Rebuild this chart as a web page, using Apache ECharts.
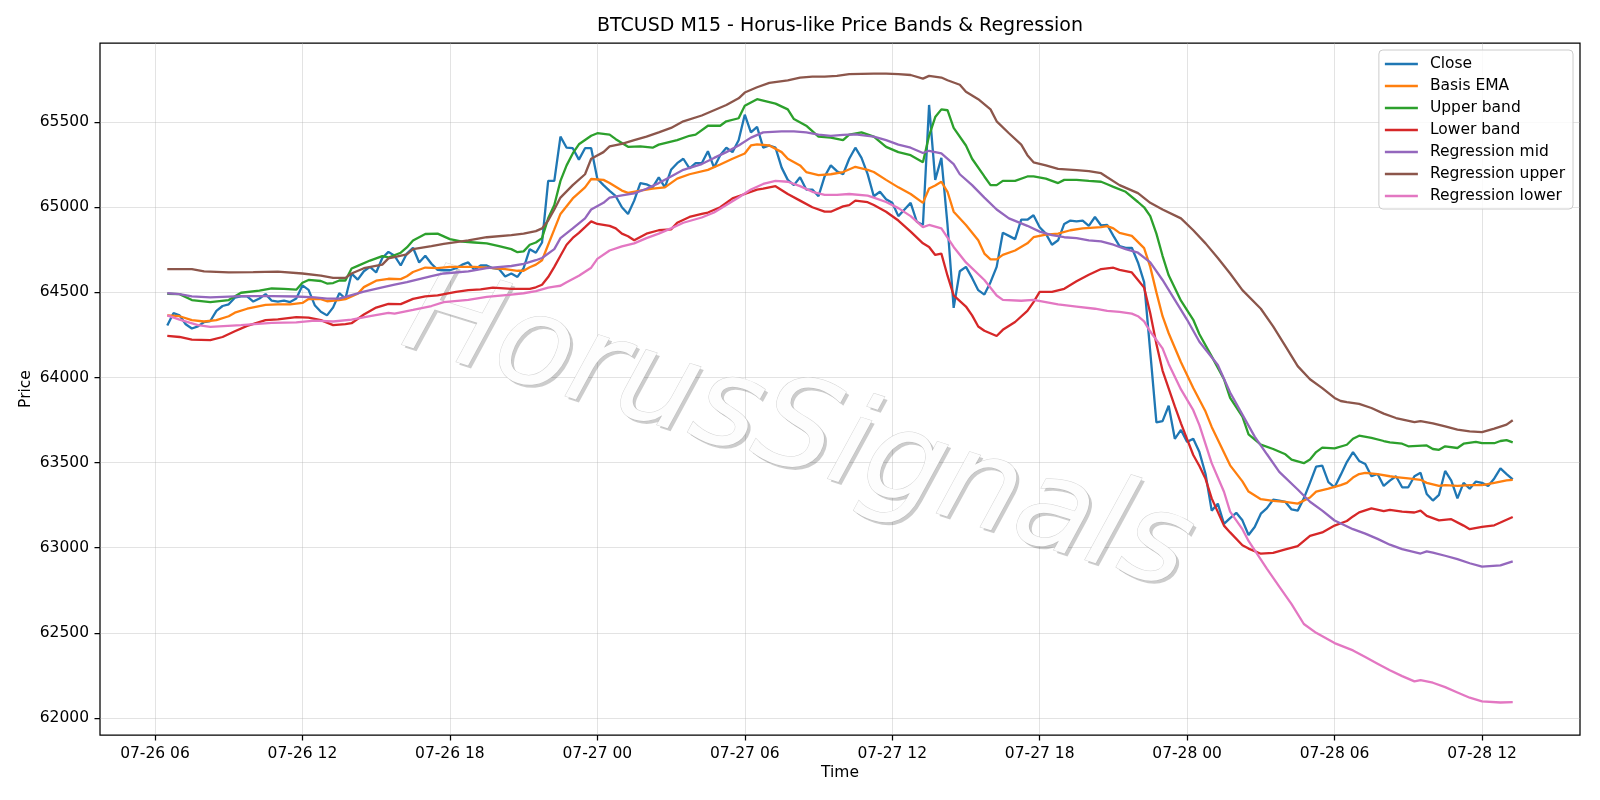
<!DOCTYPE html>
<html>
<head>
<meta charset="utf-8">
<title>BTCUSD M15 - Horus-like Price Bands & Regression</title>
<script src="https://cdn.jsdelivr.net/npm/echarts@6/dist/echarts.min.js"></script>
<style>
  html, body { margin: 0; padding: 0; background: #fff; }
  #chart { width: 1600px; height: 800px; }
</style>
</head>
<body>
<div id="chart"></div>
<script>
// M15 bars start 07-26 06:30, one every 15 minutes
var startTime = Date.UTC(2024, 6, 26, 6, 30);
var barMs = 15 * 60 * 1000;

var xTickLabels = ['07-26 06', '07-26 12', '07-26 18', '07-27 00', '07-27 06',
                   '07-27 12', '07-27 18', '07-28 00', '07-28 06', '07-28 12'];
var yTicks = [62000, 62500, 63000, 63500, 64000, 64500, 65000, 65500];

// Close, one value per bar
var closeValues = [
    64306, 64378, 64365, 64313, 64288, 64300, 64326, 64332, 64391, 64420,
    64430, 64469, 64477, 64477, 64446, 64464, 64490, 64451, 64446, 64451,
    64443, 64464, 64541, 64515, 64425, 64386, 64365, 64412, 64495, 64464,
    64610, 64575, 64624, 64650, 64617, 64702, 64738, 64715, 64658, 64728,
    64762, 64676, 64715, 64668, 64632, 64630, 64630, 64642, 64663, 64676,
    64632, 64658, 64658, 64642, 64637, 64593, 64611, 64591, 64642, 64754,
    64733, 64793, 65155, 65155, 65415, 65350, 65347, 65280, 65347, 65347,
    65168, 65130, 65096, 65065, 65000, 64961, 65039, 65142, 65135, 65117,
    65176, 65117, 65220, 65259, 65285, 65228, 65259, 65259, 65329, 65233,
    65306, 65350, 65324, 65394, 65544, 65440, 65472, 65350, 65363, 65350,
    65233, 65161, 65130, 65176, 65104, 65104, 65065, 65181, 65246, 65212,
    65194, 65285, 65350, 65290, 65195, 65065, 65091, 65047, 65026, 64948,
    64987, 65026, 64915, 64896, 65601, 65161, 65290, 64896, 64409, 64624,
    64650, 64585, 64513, 64487, 64560, 64650, 64850, 64832, 64813, 64927,
    64927, 64953, 64883, 64845, 64780, 64806, 64902, 64922, 64917, 64922,
    64891, 64943, 64893, 64896, 64832, 64772, 64762, 64762, 64676, 64560,
    64150, 63736, 63744, 63834, 63640, 63692, 63622, 63640, 63562, 63433,
    63218, 63259, 63140, 63174, 63205, 63161, 63075, 63122, 63200, 63233,
    63282, 63277, 63269, 63225, 63218, 63290, 63381, 63477, 63482, 63386,
    63355, 63428, 63503, 63562, 63510, 63492, 63420, 63433, 63363, 63394,
    63420, 63355, 63355, 63420, 63440, 63316, 63277, 63311, 63451, 63394,
    63290, 63381, 63347, 63389, 63381, 63363, 63407, 63466, 63433, 63402
];

// Smooth lines, read as [bar index, price]
var basisEma = [
    [0,64365],[2,64360],[4,64337],[6,64329],[8,64337],[10,64360],[11,64381],[13,64404],[14,64412],
    [16,64427],[18,64430],[20,64430],[22,64438],[23,64461],[25,64460],[26,64448],[28,64455],[29,64460],
    [31,64492],[32,64531],[34,64569],[36,64580],[38,64578],[39,64595],[40,64620],[42,64646],[44,64643],
    [46,64650],[48,64650],[50,64650],[52,64645],[55,64637],[57,64627],[58,64627],[59,64648],[60,64663],
    [61,64689],[62,64780],[63,64870],[64,64961],[66,65052],[68,65117],[69,65166],[71,65161],[72,65142],
    [74,65098],[75,65085],[77,65098],[79,65109],[81,65117],[83,65168],[85,65194],[88,65220],[90,65251],
    [92,65285],[94,65316],[95,65363],[96,65370],[98,65363],[100,65324],[101,65285],[103,65246],[104,65207],
    [106,65189],[108,65194],[110,65207],[112,65238],[114,65220],[115,65207],[117,65161],[119,65117],
    [121,65078],[123,65026],[124,65110],[125,65128],[126,65150],[127,65091],[128,64974],[130,64896],
    [132,64806],[133,64728],[134,64694],[135,64694],[136,64720],[138,64746],[140,64788],[141,64824],
    [143,64839],[145,64845],[147,64865],[149,64876],[152,64883],[153,64889],[154,64876],[155,64850],
    [157,64832],[159,64760],[160,64650],[161,64500],[162,64360],[163,64260],[165,64090],[167,63938],
    [169,63800],[170,63710],[172,63560],[173,63484],[175,63390],[176,63330],[178,63285],[180,63275],
    [182,63269],[184,63259],[186,63295],[187,63330],[189,63347],[191,63368],[192,63381],[193,63412],
    [194,63433],[195,63440],[197,63433],[199,63420],[200,63415],[202,63407],[204,63399],[205,63381],
    [207,63363],[208,63368],[210,63363],[212,63368],[214,63368],[216,63381],[218,63396],[219,63399]
];

var upperBand = [
    [0,64492],[2,64490],[4,64455],[7,64443],[10,64455],[12,64498],[15,64510],[17,64523],[19,64521],
    [21,64516],[22,64557],[23,64573],[25,64567],[26,64552],[27,64555],[28,64570],[29,64570],[30,64640],
    [31,64656],[33,64687],[35,64713],[36,64705],[38,64733],[39,64764],[40,64805],[42,64843],[44,64845],
    [46,64813],[48,64798],[50,64793],[52,64788],[54,64772],[56,64754],[57,64736],[58,64741],[59,64780],
    [60,64793],[61,64819],[62,64935],[63,65013],[64,65155],[65,65246],[66,65316],[67,65370],[69,65420],
    [70,65435],[72,65427],[73,65400],[75,65355],[77,65358],[79,65350],[80,65368],[83,65394],[85,65420],
    [86,65427],[88,65479],[90,65479],[91,65505],[93,65523],[94,65596],[96,65635],[97,65627],[99,65609],
    [101,65575],[102,65518],[104,65479],[106,65415],[108,65409],[110,65394],[111,65427],[113,65440],
    [115,65415],[117,65355],[119,65324],[121,65306],[123,65264],[124,65420],[125,65530],[126,65575],
    [127,65570],[128,65466],[130,65363],[131,65285],[133,65181],[134,65130],[135,65130],[136,65155],
    [138,65155],[140,65181],[141,65181],[143,65168],[145,65142],[146,65161],[148,65161],[150,65155],
    [152,65150],[153,65135],[154,65120],[156,65091],[158,65031],[159,65000],[160,64948],[161,64845],
    [162,64715],[163,64600],[165,64451],[167,64339],[168,64254],[170,64124],[172,63990],[173,63881],
    [175,63770],[176,63666],[178,63606],[180,63580],[182,63549],[183,63518],[185,63497],[186,63518],
    [187,63562],[188,63588],[190,63584],[192,63605],[193,63640],[194,63658],[196,63645],[198,63627],
    [199,63619],[201,63611],[202,63596],[205,63601],[206,63580],[207,63575],[208,63596],[210,63586],
    [211,63611],[213,63622],[214,63614],[216,63614],[217,63627],[218,63632],[219,63619]
];

var lowerBand = [
    [0,64244],[2,64238],[4,64223],[7,64220],[9,64238],[11,64272],[13,64303],[16,64337],[18,64342],
    [21,64355],[23,64352],[25,64337],[27,64308],[29,64314],[30,64319],[32,64370],[34,64411],[36,64433],
    [38,64431],[40,64462],[42,64477],[44,64482],[47,64503],[49,64513],[51,64518],[53,64528],[56,64521],
    [59,64521],[60,64530],[61,64545],[62,64590],[63,64650],[64,64715],[65,64780],[66,64820],[67,64850],
    [68,64883],[69,64917],[70,64902],[72,64891],[73,64876],[74,64845],[75,64830],[76,64806],[78,64845],
    [80,64865],[82,64870],[83,64909],[85,64943],[87,64961],[88,64969],[90,65000],[92,65052],[94,65078],
    [96,65104],[97,65109],[99,65124],[101,65078],[103,65039],[105,65000],[107,64974],[108,64974],
    [110,65005],[111,65013],[112,65039],[114,65030],[115,65013],[117,64974],[119,64922],[121,64857],
    [123,64788],[124,64767],[125,64720],[126,64728],[127,64598],[128,64482],[130,64417],[131,64365],
    [132,64300],[133,64275],[135,64244],[136,64280],[138,64326],[140,64391],[141,64443],[142,64503],
    [144,64503],[146,64521],[148,64565],[150,64604],[152,64637],[154,64645],[155,64632],[157,64617],
    [158,64573],[159,64528],[160,64378],[161,64197],[162,64041],[164,63830],[165,63731],[167,63545],
    [168,63480],[169,63405],[170,63290],[172,63130],[173,63090],[175,63015],[176,62995],[178,62965],
    [180,62970],[182,62990],[184,63010],[186,63070],[188,63090],[190,63130],[192,63157],[193,63184],
    [194,63208],[196,63231],[198,63215],[199,63223],[201,63212],[203,63207],[204,63218],[205,63187],
    [207,63161],[209,63168],[211,63130],[212,63109],[214,63122],[216,63132],[217,63148],[219,63181]
];

var regMid = [
    [0,64495],[2,64490],[4,64477],[7,64471],[12,64478],[17,64478],[21,64476],[24,64471],[26,64463],
    [28,64463],[30,64484],[32,64505],[35,64530],[37,64545],[39,64560],[41,64578],[43,64595],[45,64611],
    [49,64624],[52,64642],[56,64655],[58,64668],[60,64689],[61,64702],[63,64754],[64,64819],[66,64876],
    [68,64935],[69,64987],[71,65026],[72,65057],[74,65070],[76,65082],[78,65109],[80,65142],[82,65181],
    [84,65220],[87,65254],[89,65290],[91,65324],[93,65363],[95,65409],[97,65440],[100,65446],[102,65446],
    [104,65440],[106,65427],[108,65420],[110,65425],[112,65428],[115,65415],[117,65394],[119,65368],
    [121,65350],[123,65319],[124,65332],[126,65316],[128,65254],[129,65194],[131,65130],[133,65057],
    [135,64987],[137,64935],[140,64891],[142,64857],[144,64837],[146,64824],[148,64819],[150,64806],
    [152,64800],[154,64780],[156,64754],[158,64733],[160,64676],[162,64573],[164,64456],[166,64339],
    [168,64210],[171,64073],[173,63912],[175,63782],[177,63653],[179,63549],[181,63446],[184,63342],
    [186,63270],[188,63218],[190,63160],[193,63109],[195,63083],[197,63052],[199,63018],[201,62992],
    [204,62966],[205,62979],[206,62971],[208,62953],[210,62933],[212,62909],[214,62889],[217,62896],
    [219,62920]
];

var regUpper = [
    [0,64637],[4,64637],[6,64624],[10,64617],[14,64619],[18,64622],[22,64611],[25,64598],[27,64585],
    [29,64585],[30,64611],[32,64642],[35,64663],[36,64700],[39,64723],[40,64754],[43,64772],[45,64785],
    [49,64806],[52,64824],[56,64837],[58,64845],[60,64860],[61,64876],[62,64922],[63,64987],[64,65057],
    [66,65130],[68,65194],[69,65285],[71,65324],[72,65358],[74,65373],[76,65394],[78,65415],[80,65440],
    [82,65466],[84,65505],[87,65539],[89,65570],[91,65601],[93,65640],[94,65674],[96,65705],[98,65731],
    [101,65746],[103,65762],[105,65767],[107,65767],[109,65772],[111,65782],[115,65785],[117,65785],
    [119,65782],[121,65777],[123,65756],[124,65772],[126,65762],[127,65746],[129,65720],[130,65679],
    [132,65635],[134,65575],[135,65505],[137,65435],[139,65368],[140,65306],[141,65264],[143,65246],
    [145,65225],[148,65218],[150,65212],[152,65200],[153,65176],[155,65130],[158,65083],[160,65026],
    [162,64987],[165,64935],[167,64865],[169,64788],[171,64702],[173,64611],[175,64513],[178,64404],
    [180,64300],[182,64184],[184,64067],[186,63990],[188,63938],[190,63880],[191,63862],[192,63855],
    [194,63845],[196,63821],[198,63788],[200,63762],[203,63738],[204,63744],[206,63731],[208,63713],
    [210,63694],[212,63684],[214,63679],[216,63700],[218,63723],[219,63749]
];

var regLower = [
    [0,64365],[2,64340],[5,64308],[7,64298],[12,64308],[17,64321],[21,64324],[24,64334],[27,64329],
    [30,64340],[33,64360],[36,64380],[37,64375],[40,64397],[43,64420],[45,64443],[49,64456],[52,64474],
    [56,64487],[58,64495],[60,64508],[62,64528],[63,64534],[64,64539],[65,64560],[67,64598],[69,64645],
    [70,64697],[72,64746],[74,64770],[76,64788],[78,64819],[80,64845],[82,64876],[84,64909],[87,64940],
    [89,64969],[91,65013],[93,65057],[95,65104],[97,65137],[99,65155],[101,65150],[103,65124],[105,65091],
    [107,65073],[109,65073],[111,65078],[114,65068],[115,65057],[117,65031],[119,64995],[121,64948],
    [123,64883],[124,64896],[126,64876],[128,64767],[130,64676],[133,64573],[135,64482],[136,64456],
    [139,64451],[141,64456],[143,64443],[145,64430],[148,64417],[151,64404],[153,64391],[155,64385],
    [157,64375],[158,64360],[159,64330],[160,64270],[162,64171],[163,64080],[165,63930],[167,63808],
    [168,63720],[170,63497],[172,63329],[173,63212],[175,63109],[176,63040],[179,62876],[181,62772],
    [183,62669],[185,62552],[187,62500],[190,62440],[193,62397],[195,62358],[197,62319],[199,62280],
    [201,62246],[203,62215],[204,62223],[206,62207],[208,62181],[210,62150],[212,62119],[214,62098],
    [217,62091],[219,62093]
];

var seriesNames = ['Close', 'Basis EMA', 'Upper band', 'Lower band',
                   'Regression mid', 'Regression upper', 'Regression lower'];
var seriesColors = ['#1f77b4', '#ff7f0e', '#2ca02c', '#d62728', '#9467bd', '#8c564b', '#e377c2'];


var _horusBandsChart = function (divName) {
    if (typeof echarts == 'undefined') {
        console.warn('Warning - echarts.min.js is not loaded.');
        return;
    }

    var chart_element = document.getElementById(divName);
    if (!chart_element) {
        return;
    }

    var chart = echarts.init(chart_element, null, { renderer: 'canvas' });

    var font = 'DejaVu Sans, Verdana, sans-serif';

    var parseTick = function (label) {
        // 'MM-dd HH'
        var mm = parseInt(label.substr(0, 2), 10);
        var dd = parseInt(label.substr(3, 2), 10);
        var hh = parseInt(label.substr(6, 2), 10);
        return Date.UTC(2024, mm - 1, dd, hh);
    };
    var xTickValues = xTickLabels.map(parseTick);

    var toTime = function (pairs) {
        return pairs.map(function (p) {
            return [startTime + p[0] * barMs, p[1]];
        });
    };
    var closeData = closeValues.map(function (v, i) {
        return [startTime + i * barMs, v];
    });

    // matplotlib style 5% margins on the time range
    var lastTime = startTime + (closeValues.length - 1) * barMs;
    var pad = (lastTime - startTime) * 0.05;

    var lineSeries = function (idx, data) {
        return {
            name: seriesNames[idx],
            type: 'line',
            data: data,
            showSymbol: false,
            symbol: 'none',
            animation: false,
            color: seriesColors[idx],
            lineStyle: {
                width: 2.3,
                color: seriesColors[idx]
            },
            emphasis: { disabled: true },
            z: 3
        };
    };

    // Watermark: a grey offset copy as the shadow, then the light text over it
    var wmX = 797, wmY = 435;
    var wmRotation = -17.5 * Math.PI / 180;
    var wmFont = 'italic 125px "DejaVu Sans"';

    chart.setOption({
        animation: false,
        backgroundColor: '#fff',
        textStyle: {
            fontFamily: font
        },

        grid: {
            left: 100,
            right: 20,
            top: 43,
            bottom: 65,
            show: true,
            borderColor: '#000',
            borderWidth: 1.25,
            backgroundColor: 'transparent',
            containLabel: false
        },

        // Legend, upper right
        legend: {
            orient: 'vertical',
            right: 27,
            top: 50,
            data: seriesNames,
            icon: 'rect',
            itemWidth: 33,
            itemHeight: 2.4,
            itemGap: 6,
            selectedMode: false,
            padding: [6, 8, 5, 6],
            borderColor: '#cccccc',
            borderWidth: 1,
            borderRadius: 4,
            backgroundColor: 'rgba(255,255,255,0.8)',
            textStyle: {
                fontFamily: font,
                fontSize: 15.5,
                lineHeight: 16,
                color: '#000',
                padding: [0, 0, 0, 7]
            },
            z: 10
        },

        xAxis: {
            type: 'value',
            min: startTime - pad,
            max: lastTime + pad,
            name: 'Time',
            nameLocation: 'middle',
            nameGap: 30,
            nameMoveOverlap: false,
            nameTextStyle: {
                fontFamily: font,
                fontSize: 15.5,
                color: '#000'
            },
            axisLine: { show: false },
            axisTick: {
                show: true,
                length: 5.5,
                customValues: xTickValues,
                lineStyle: { color: '#000', width: 1.25 }
            },
            axisLabel: {
                margin: 11,
                customValues: xTickValues,
                fontFamily: font,
                fontSize: 15.5,
                color: '#000',
                formatter: function (value) {
                    var i = xTickValues.indexOf(value);
                    return i >= 0 ? xTickLabels[i] : '';
                }
            },
            splitLine: {
                show: true,
                lineStyle: { color: 'rgba(176,176,176,0.35)', width: 1 }
            }
        },

        yAxis: {
            type: 'value',
            min: 61900,
            max: 65965,
            name: 'Price',
            nameLocation: 'middle',
            nameGap: 66,
            nameMoveOverlap: false,
            nameTextStyle: {
                fontFamily: font,
                fontSize: 15.5,
                color: '#000'
            },
            axisLine: { show: false },
            axisTick: {
                show: true,
                length: 5.5,
                customValues: yTicks,
                lineStyle: { color: '#000', width: 1.25 }
            },
            axisLabel: {
                margin: 11,
                customValues: yTicks,
                fontFamily: font,
                fontSize: 15.5,
                color: '#000',
                formatter: function (value) {
                    return String(value);
                }
            },
            splitLine: {
                show: true,
                lineStyle: { color: 'rgba(176,176,176,0.35)', width: 1 }
            }
        },

        graphic: [
            {
                // Title
                type: 'text',
                x: 840,
                y: 26,
                silent: true,
                style: {
                    text: 'BTCUSD M15 - Horus-like Price Bands & Regression',
                    font: '19px "DejaVu Sans"',
                    fill: '#000',
                    align: 'center',
                    verticalAlign: 'middle'
                }
            },
            {
                // Watermark shadow
                type: 'text',
                x: wmX + 3,
                y: wmY + 3,
                rotation: wmRotation,
                silent: true,
                z: 1,
                style: {
                    text: 'HorusSignals',
                    font: wmFont,
                    fill: 'rgba(0,0,0,0.2)',
                    align: 'center',
                    verticalAlign: 'middle'
                }
            },
            {
                // Watermark text
                type: 'text',
                x: wmX,
                y: wmY,
                rotation: wmRotation,
                silent: true,
                z: 2,
                style: {
                    text: 'HorusSignals',
                    font: wmFont,
                    fill: 'rgba(253,253,253,1)',
                    stroke: 'rgba(170,170,170,0.5)',
                    lineWidth: 1,
                    align: 'center',
                    verticalAlign: 'middle'
                }
            }
        ],

        series: [
            lineSeries(0, closeData),
            lineSeries(1, toTime(basisEma)),
            lineSeries(2, toTime(upperBand)),
            lineSeries(3, toTime(lowerBand)),
            lineSeries(4, toTime(regMid)),
            lineSeries(5, toTime(regUpper)),
            lineSeries(6, toTime(regLower))
        ]
    });

    // Resize
    var resizeCharts;
    window.addEventListener('resize', function () {
        clearTimeout(resizeCharts);
        resizeCharts = setTimeout(function () {
            chart.resize();
        }, 200);
    });
};

_horusBandsChart('chart');
</script>
</body>
</html>
